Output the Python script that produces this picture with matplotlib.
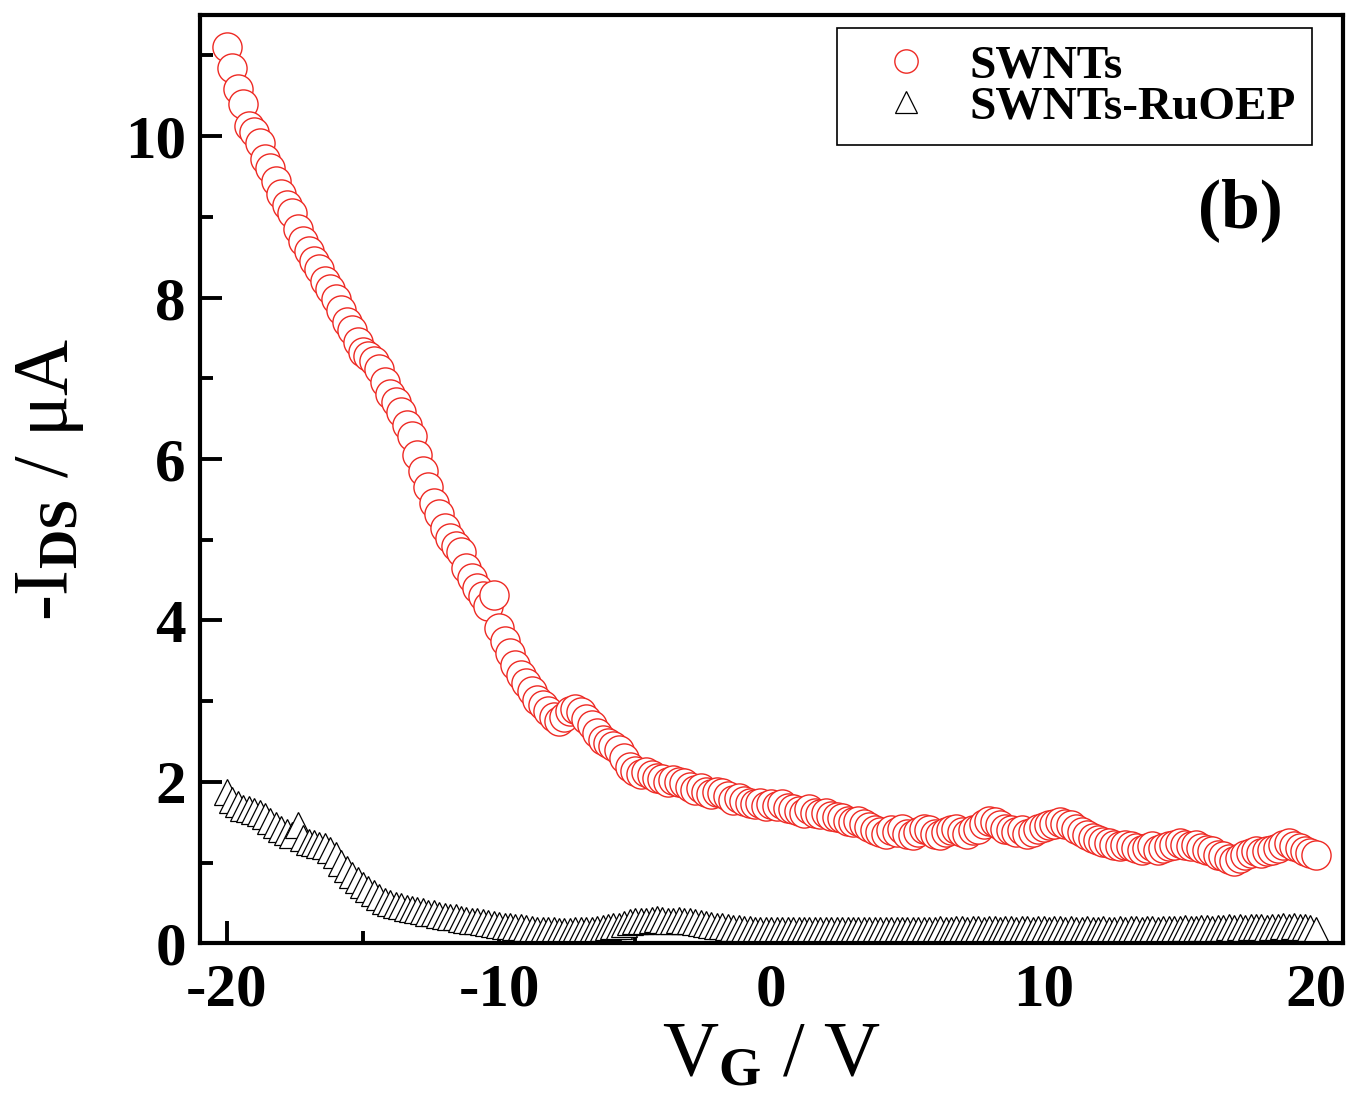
"""Transfer curves (-I_DS vs V_G) for bare SWNTs and SWNTs-RuOEP."""

import matplotlib
import numpy as np

matplotlib.use("Agg")
import matplotlib.pyplot as plt  # noqa: E402
from matplotlib.ticker import MultipleLocator  # noqa: E402

# gate sweep: -20 V to +20 V in 0.2 V steps
VG_START = -20.0
VG_STEP = 0.2

# -I_DS (uA) of bare SWNTs, one row per volt (5 points each)
ids_swnt = [
    11.10, 10.85, 10.58, 10.40, 10.12,
    10.05, 9.92, 9.72, 9.60, 9.45,
    9.28, 9.15, 9.05, 8.85, 8.70,
    8.58, 8.45, 8.35, 8.20, 8.10,
    7.98, 7.85, 7.70, 7.60, 7.45,
    7.32, 7.28, 7.22, 7.12, 6.95,
    6.80, 6.70, 6.58, 6.42, 6.28,
    6.05, 5.85, 5.65, 5.45, 5.32,
    5.15, 5.02, 4.92, 4.85, 4.65,
    4.52, 4.40, 4.30, 4.18, 4.32,
    3.90, 3.75, 3.60, 3.45, 3.32,
    3.22, 3.12, 3.02, 2.95, 2.88,
    2.80, 2.76, 2.80, 2.88, 2.90,
    2.86, 2.78, 2.70, 2.60, 2.52,
    2.48, 2.45, 2.40, 2.30, 2.18,
    2.14, 2.10, 2.12, 2.08, 2.05,
    2.04, 2.00, 2.02, 2.00, 1.98,
    1.94, 1.90, 1.92, 1.88, 1.85,
    1.88, 1.86, 1.82, 1.78, 1.80,
    1.76, 1.74, 1.72, 1.74, 1.70,
    1.72, 1.70, 1.72, 1.68, 1.66,
    1.64, 1.62, 1.66, 1.62, 1.60,
    1.62, 1.58, 1.56, 1.55, 1.52,
    1.50, 1.52, 1.48, 1.44, 1.40,
    1.38, 1.36, 1.40, 1.38, 1.42,
    1.36, 1.34, 1.38, 1.42, 1.40,
    1.36, 1.34, 1.38, 1.40, 1.42,
    1.38, 1.36, 1.40, 1.42, 1.48,
    1.52, 1.50, 1.46, 1.42, 1.40,
    1.38, 1.40, 1.36, 1.38, 1.42,
    1.44, 1.46, 1.48, 1.50, 1.48,
    1.46, 1.42, 1.38, 1.34, 1.30,
    1.28, 1.26, 1.24, 1.22, 1.20,
    1.22, 1.20, 1.18, 1.16, 1.18,
    1.20, 1.16, 1.18, 1.20, 1.22,
    1.24, 1.22, 1.20, 1.22, 1.18,
    1.16, 1.14, 1.10, 1.08, 1.04,
    1.02, 1.06, 1.10, 1.12, 1.14,
    1.12, 1.14, 1.16, 1.18, 1.22,
    1.24, 1.20, 1.18, 1.14, 1.12,
    1.10,
]

# -I_DS (uA) of SWNTs-RuOEP on the same sweep
ids_ruoep = [
    1.88, 1.78, 1.72, 1.68, 1.66,
    1.64, 1.62, 1.58, 1.52, 1.46,
    1.42, 1.38, 1.34, 1.46, 1.30,
    1.26, 1.24, 1.22, 1.20, 1.16,
    1.10, 1.00, 0.92, 0.84, 0.78,
    0.72, 0.67, 0.62, 0.57, 0.53,
    0.50, 0.48, 0.46, 0.44, 0.42,
    0.41, 0.40, 0.38, 0.37, 0.35,
    0.34, 0.33, 0.32, 0.30, 0.29,
    0.28, 0.27, 0.26, 0.25, 0.24,
    0.23, 0.22, 0.21, 0.20, 0.20,
    0.19, 0.18, 0.17, 0.17, 0.16,
    0.16, 0.15, 0.15, 0.15, 0.16,
    0.16, 0.17, 0.17, 0.18, 0.19,
    0.20, 0.21, 0.22, 0.24, 0.26,
    0.27, 0.27, 0.28, 0.29, 0.30,
    0.29, 0.28, 0.28, 0.29, 0.28,
    0.27, 0.26, 0.25, 0.24, 0.23,
    0.22, 0.21, 0.20, 0.19, 0.19,
    0.18, 0.18, 0.17, 0.17, 0.17,
    0.17, 0.16, 0.16, 0.17, 0.16,
    0.16, 0.17, 0.16, 0.16, 0.17,
    0.16, 0.16, 0.17, 0.16, 0.16,
    0.17, 0.16, 0.16, 0.17, 0.17,
    0.16, 0.17, 0.17, 0.16, 0.17,
    0.17, 0.17, 0.16, 0.17, 0.17,
    0.17, 0.18, 0.17, 0.17, 0.18,
    0.18, 0.17, 0.18, 0.18, 0.17,
    0.18, 0.18, 0.17, 0.18, 0.18,
    0.17, 0.18, 0.18, 0.17, 0.18,
    0.18, 0.17, 0.18, 0.18, 0.17,
    0.18, 0.17, 0.17, 0.18, 0.17,
    0.17, 0.18, 0.17, 0.17, 0.18,
    0.17, 0.18, 0.18, 0.17, 0.18,
    0.18, 0.17, 0.18, 0.18, 0.18,
    0.18, 0.19, 0.18, 0.18, 0.19,
    0.19, 0.18, 0.19, 0.19, 0.20,
    0.19, 0.20, 0.19, 0.20, 0.20,
    0.20, 0.19, 0.20, 0.20, 0.21,
    0.20, 0.21, 0.20, 0.20, 0.19,
    0.16,
]

series_labels = ["SWNTs", "SWNTs-RuOEP"]
x_ticks = [-20, -10, 0, 10, 20]
y_ticks = [0, 2, 4, 6, 8, 10]

RED = "#ee2a24"
SERIF = "Liberation Serif"

plt.rcParams["font.family"] = [SERIF, "FreeSerif", "DejaVu Serif"]
plt.rcParams["font.weight"] = "bold"
plt.rcParams["axes.unicode_minus"] = False
plt.rcParams["mathtext.fontset"] = "custom"
plt.rcParams["mathtext.rm"] = f"{SERIF}:bold"
plt.rcParams["mathtext.it"] = f"{SERIF}:bold"
plt.rcParams["mathtext.bf"] = f"{SERIF}:bold"

vg_swnt = VG_START + VG_STEP * np.arange(len(ids_swnt))
vg_ruoep = VG_START + VG_STEP * np.arange(len(ids_ruoep))

fig = plt.figure(figsize=(13.49, 11.15), dpi=100)
ax = fig.add_axes([0.148, 0.154, 0.8476, 0.8325])

ax.plot(vg_ruoep, ids_ruoep, linestyle="none", marker="^", markersize=19,
        markerfacecolor="white", markeredgecolor="black", markeredgewidth=0.9,
        label=series_labels[1])
ax.plot(vg_swnt, ids_swnt, linestyle="none", marker="o", markersize=21,
        markerfacecolor="white", markeredgecolor=RED, markeredgewidth=1.0,
        label=series_labels[0])

ax.set_xlim(-21, 21)
ax.set_ylim(0, 11.5)
ax.set_xticks(x_ticks)
ax.set_yticks(y_ticks)
ax.xaxis.set_minor_locator(MultipleLocator(5))
ax.yaxis.set_minor_locator(MultipleLocator(1))
ax.tick_params(which="both", direction="in", top=False, right=False,
               width=2.8, labelsize=44)
ax.tick_params(which="major", length=16)
ax.tick_params(which="minor", length=9)
ax.tick_params(axis="y", pad=10)
ax.tick_params(axis="x", pad=14)
for spine in ax.spines.values():
    spine.set_linewidth(3)

ax.set_xlabel(r"V$_{\rm G}$ / V", fontsize=56, labelpad=2)
ax.set_ylabel(r"-I$_{\rm DS}$ / μA", fontsize=56, labelpad=28)

handles, labels = ax.get_legend_handles_labels()
leg = ax.legend(handles[::-1], labels[::-1], loc="upper right",
                bbox_to_anchor=(0.973, 0.986), borderaxespad=0,
                fontsize=34, markerscale=0.8, fancybox=False,
                edgecolor="black", framealpha=1, labelspacing=-0.05,
                handlelength=2.2, handletextpad=0.25, borderpad=0.35)
leg.get_frame().set_linewidth(1.2)

ax.text(0.91, 0.79, "(b)", transform=ax.transAxes, fontsize=50,
        ha="center", va="center")

fig.savefig("out.png", dpi=100)
